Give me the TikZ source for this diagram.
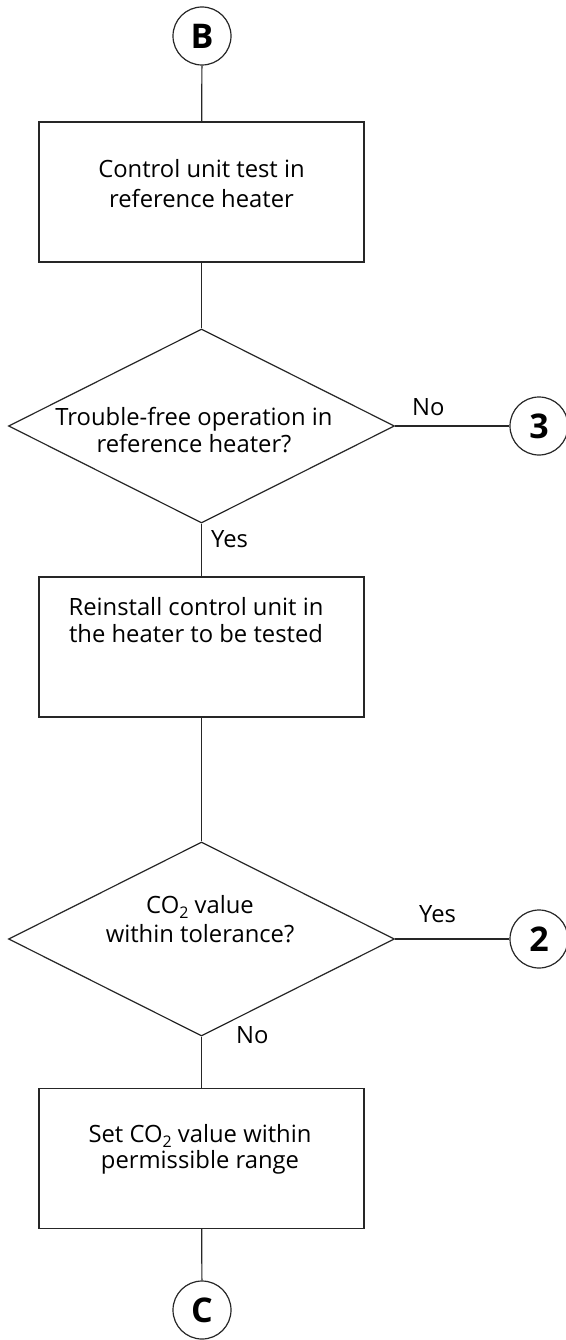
\documentclass[tikz,border=0pt]{standalone}
\usepackage{fontspec}
\setmainfont{Open Sans}
\usetikzlibrary{shapes.geometric}
\newcommand{\subtwo}{\raisebox{-5pt}{\fontsize{16}{16}\selectfont 2}}
\tikzset{
  ln/.style={line width=1.2pt, draw=black!85},
  boxnode/.style={ln, rectangle, inner sep=0pt, minimum width=325pt, minimum height=140pt},
  decnode/.style={ln, diamond, inner sep=0pt, minimum width=386pt, minimum height=194pt},
  conn/.style={ln, circle, inner sep=0pt, minimum size=58pt, font=\fontsize{34}{34}\selectfont\bfseries},
  txt/.style={anchor=base, inner sep=0pt, font=\fontsize{23.8}{27}\selectfont},
  lbl/.style={anchor=base west, inner sep=0pt, font=\fontsize{23.8}{27}\selectfont}
}
\begin{document}
\begin{tikzpicture}[x=1pt, y=-1pt]
\useasboundingbox (0,0) rectangle (565,1340);
% shapes
\node[conn] (B) at (202,36) {B};
\node[boxnode] (box1) at (201.5,192) {};
\node[decnode] (dec1) at (201.5,426) {};
\node[conn] (c3) at (539,426) {3};
\node[boxnode] (box2) at (201.5,647) {};
\node[decnode] (dec2) at (201.5,939) {};
\node[conn] (c2) at (539,939) {2};
\node[boxnode] (box3) at (201.5,1158.5) {};
\node[conn] (C) at (202,1310) {C};
% texts
\node[txt] (t1a) at (201.5,178) {Control unit test in};
\node[txt] (t1b) at (201.5,208) {reference heater};
\node[txt] (t2a) at (194,425) {Trouble-free operation in};
\node[txt] (t2b) at (194,452) {reference heater?};
\node[txt] (t3a) at (196,615) {Reinstall control unit in};
\node[txt] (t3b) at (196,642) {the heater to be tested};
\node[txt] (t4a) at (200,913) {CO\subtwo{} value};
\node[txt] (t4b) at (200,942) {within tolerance?};
\node[txt] (t5a) at (200,1142) {Set CO\subtwo{} value within};
\node[txt] (t5b) at (200,1168) {permissible range};
% branch labels
\node[lbl] (no1) at (412,415) {No};
\node[lbl] (yes1) at (211,547) {Yes};
\node[lbl] (yes2) at (419,922) {Yes};
\node[lbl] (no2) at (236,1043) {No};
% connectors
\draw[ln] (B) -- (box1);
\draw[ln] (box1) -- (dec1);
\draw[ln] (dec1) -- (c3);
\draw[ln] (dec1) -- (box2);
\draw[ln] (box2) -- (dec2);
\draw[ln] (dec2) -- (c2);
\draw[ln] (dec2) -- (box3);
\draw[ln] (box3) -- (C);
\end{tikzpicture}
\end{document}
